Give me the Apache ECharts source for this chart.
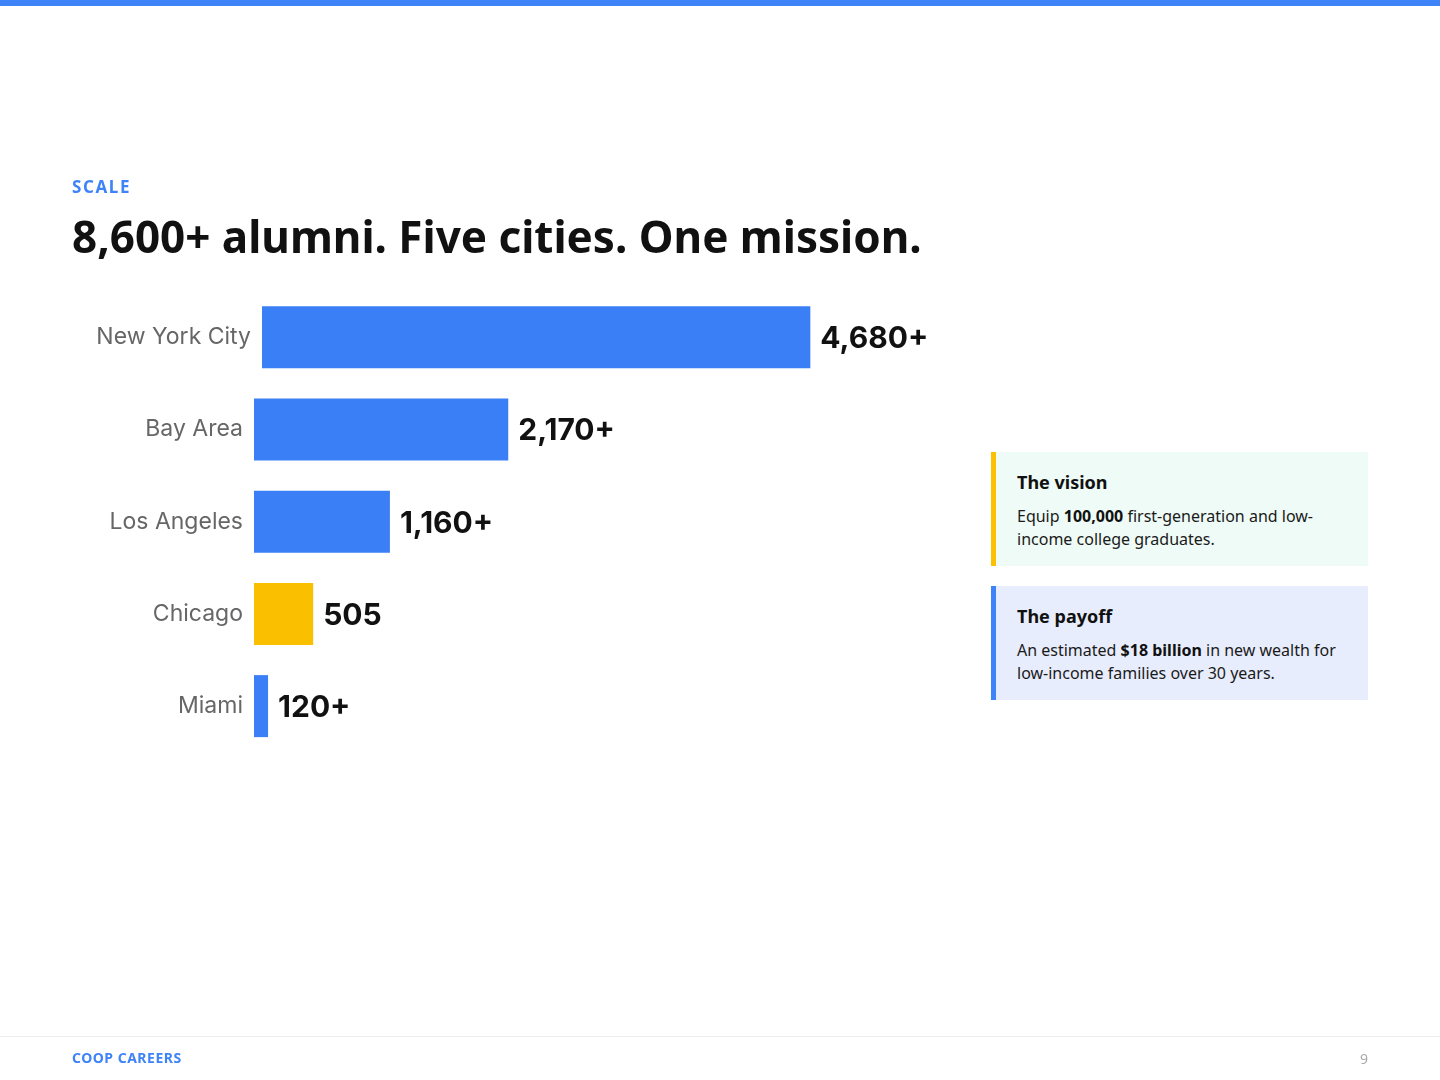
<!DOCTYPE html>
<html>
<head>
<meta charset="utf-8">
<script src="https://cdn.jsdelivr.net/npm/echarts@6/dist/echarts.min.js"></script>
<style>
  html, body { margin: 0; padding: 0; background: #ffffff; }
  body { width: 1440px; height: 1080px; position: relative; overflow: hidden; font-family: "Noto Sans", sans-serif; }
  #topbar { position: absolute; left: 0; top: 0; width: 1440px; height: 6px; background: #3F83F8; }
  #chart { position: absolute; left: 0; top: 0; width: 1440px; height: 1080px; }
  .txt { position: absolute; z-index: 2; }
  #kicker { left: 72px; top: 175px; font-size: 17px; font-weight: 700; letter-spacing: 1.6px; color: #3F83F8; line-height: 24px; }
  #title { left: 72px; top: 206px; font-size: 44px; font-weight: 700; color: #111111; line-height: 60px; letter-spacing: 0; white-space: nowrap; }
  .card { position: absolute; z-index: 2; left: 991px; width: 331px; height: 114px; box-sizing: content-box; padding: 0 20px 0 21px; }
  #card1 { top: 452px; background: #EFFBF6; border-left: 5px solid #FBC000; }
  #card2 { top: 586px; background: #E8EDFD; border-left: 5px solid #3F83F8; }
  .card h3 { margin: 0; padding-top: 18px; font-size: 18px; line-height: 24px; font-weight: 700; color: #111111; }
  .card p { margin: 11px 0 0 0; font-size: 16px; line-height: 23px; color: #1a1a1a; }
  .card b { font-weight: 700; color: #111111; }
  #footline { position: absolute; left: 0; top: 1036px; width: 1440px; height: 1px; background: #EEEEEE; }
  #brand { left: 72px; top: 1049px; font-size: 14px; font-weight: 700; letter-spacing: 0.5px; color: #3F83F8; line-height: 18px; }
  #page { left: 1340px; width: 28px; text-align: right; top: 1050px; font-size: 14px; color: #AAAAAA; line-height: 18px; }
</style>
</head>
<body>
<div id="topbar"></div>
<div id="chart"></div>
<div class="txt" id="kicker">SCALE</div>
<div class="txt" id="title">8,600+ alumni. Five cities. One mission.</div>
<div class="card" id="card1">
  <h3>The vision</h3>
  <p>Equip <b>100,000</b> first-generation and low-income college graduates.</p>
</div>
<div class="card" id="card2">
  <h3>The payoff</h3>
  <p>An estimated <b>$18 billion</b> in new wealth for low-income families over 30 years.</p>
</div>
<div id="footline"></div>
<div class="txt" id="brand">COOP CAREERS</div>
<div class="txt" id="page">9</div>
<script>
// ---- data ----
const cities = ["New York City", "Bay Area", "Los Angeles", "Chicago", "Miami"];
const alumni = [4680, 2170, 1160, 505, 120];
const valueLabels = ["4,680+", "2,170+", "1,160+", "505", "120+"];

// ---- styling ----
const BLUE = "#3B7FF6";
const YELLOW = "#FAC000";
const HIGHLIGHT = "Chicago";

const chart = echarts.init(document.getElementById("chart"), null, { renderer: "canvas" });

// first row is drawn in its own grid (it sits slightly further right in the reference)
const rows = [
  { idx: [0], left: 262, top: 291, height: 92.25 },
  { idx: [1, 2, 3, 4], left: 254, top: 383.25, height: 369 }
];

const grids = [], xAxes = [], yAxes = [], series = [];
rows.forEach((r, gi) => {
  grids.push({ left: r.left, top: r.top, width: 703, height: r.height, containLabel: false });
  xAxes.push({ type: "value", gridIndex: gi, min: 0, max: 6000, show: false });
  yAxes.push({
    type: "category", gridIndex: gi, inverse: true,
    data: r.idx.map(i => cities[i]),
    axisLine: { show: false }, axisTick: { show: false }, splitLine: { show: false },
    axisLabel: { fontFamily: "Inter", fontSize: 23, color: "#666666", margin: 11, padding: [4, 0, 0, 0] }
  });
  series.push({
    type: "bar", xAxisIndex: gi, yAxisIndex: gi, barWidth: 62,
    data: r.idx.map(i => ({
      value: alumni[i],
      itemStyle: { color: cities[i] === HIGHLIGHT ? YELLOW : BLUE },
      label: { formatter: valueLabels[i] }
    })),
    label: {
      show: true, position: "right", distance: 10, offset: [0, 2],
      fontFamily: "Inter", fontSize: 30, fontWeight: 700, color: "#111111"
    },
    silent: true, animation: false
  });
});

chart.setOption({
  animation: false,
  grid: grids, xAxis: xAxes, yAxis: yAxes, series: series
});
</script>
</body>
</html>
